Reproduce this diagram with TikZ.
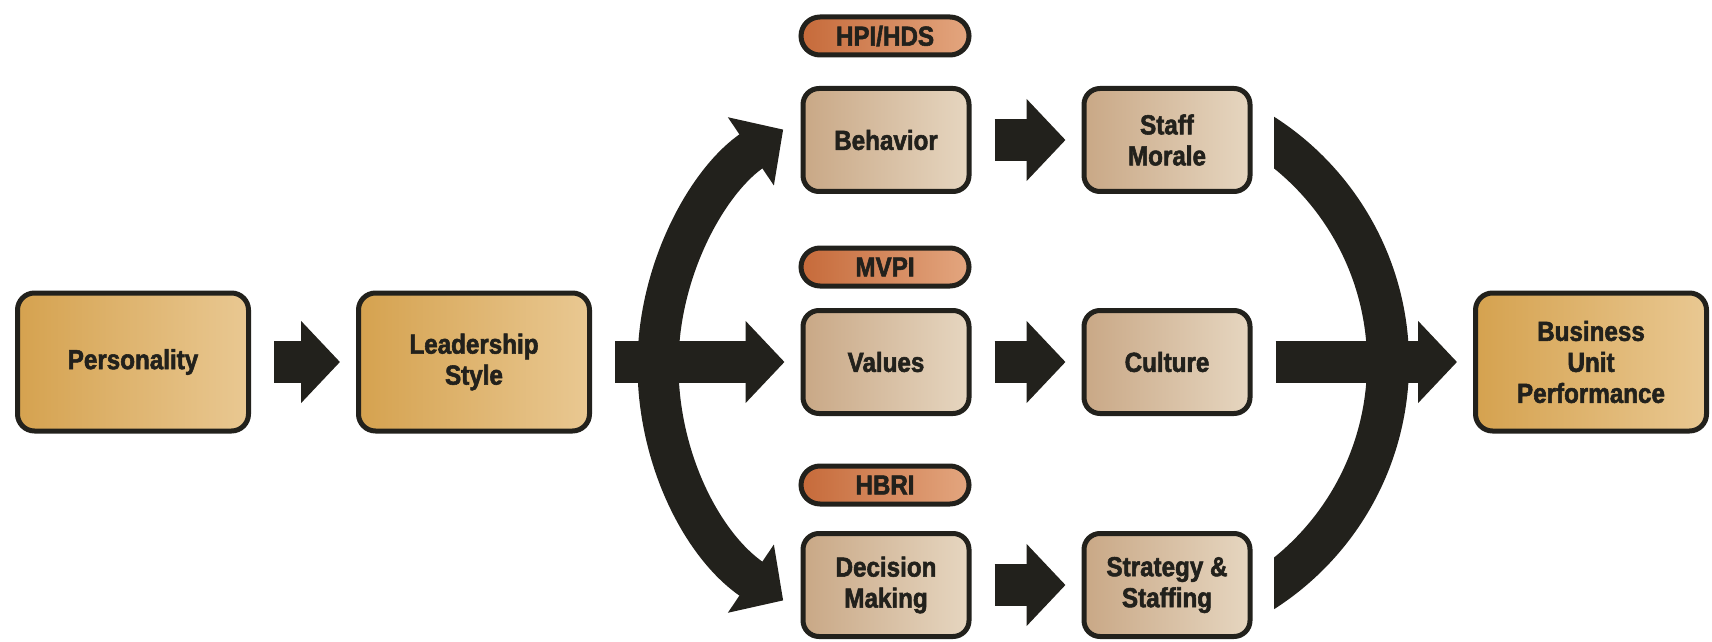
\documentclass[tikz,border=0pt]{standalone}
\usepackage{fontspec}
\setsansfont{Liberation Sans}[FakeStretch=0.88,FakeBold=2]
\usetikzlibrary{arrows.meta}
\definecolor{ink}{HTML}{22211C}
\definecolor{goldL}{HTML}{D5A24F}
\definecolor{goldR}{HTML}{E9C892}
\definecolor{tanL}{HTML}{C9A886}
\definecolor{tanR}{HTML}{E6D6C0}
\definecolor{rustL}{HTML}{C66A3A}
\definecolor{rustR}{HTML}{E3A67F}
\tikzset{
  boxtext/.style={font=\sffamily\bfseries\fontsize{27.5pt}{31pt}\selectfont,
                  text=ink, align=center},
  bighead/.tip={Triangle[width=80pt,length=39pt]}
}

\begin{document}
\begin{tikzpicture}[
  x=1pt,
  y=1pt,
  outerbox/.style={boxtext, draw=ink, line width=5pt, rounded corners=17pt,
                   left color=goldL, right color=goldR,
                   minimum width=231pt, minimum height=138pt},
  midbox/.style={boxtext, draw=ink, line width=5pt, rounded corners=16pt,
                 left color=tanL, right color=tanR,
                 minimum width=166pt, minimum height=103pt},
  tagbox/.style={boxtext, draw=ink, line width=5pt, rounded corners=19pt,
                 left color=rustL, right color=rustR,
                 minimum width=168pt, minimum height=38pt},
  flow/.style={ink, line width=42pt, shorten <=23pt, shorten >=16pt, -bighead},
  bigarc/.style={ink, line width=41pt}
]
\useasboundingbox (0,0) rectangle (1712,641);

\node [outerbox, name=pers] at (133,279) {Personality};
\node [outerbox, name=lead] at (474,279) {Leadership\\Style};
\node [outerbox, name=busi] at (1591,279) {Business\\Unit\\Performance};

\foreach [count=\i] \y/\ty/\m/\r in
                  {501/605/Behavior/{Staff\\Morale},
                   279/374/Values/Culture,
                   56/156/{Decision\\Making}/{Strategy \&\\Staffing}}
  {
   \node [tagbox, name=tag-\i] at (885,\ty) {\ifcase\i\or HPI/HDS\or MVPI\or HBRI\fi};
   \node [midbox, name=mid-\i] at (886,\y) {\m};
   \node [midbox, name=right-\i] at (1167,\y) {\r};
   \draw [flow] (mid-\i) -- (right-\i);
  }

\draw [flow] (pers) -- (lead);
\draw [flow] (lead) -- (mid-2);
\draw [flow] (right-2) -- (busi);

% fan out from leadership style
\coordinate (lhub) at (942,276);
\draw [bigarc, bighead-bighead] ([shift={(236:284)}]lhub)
      arc [start angle=236, end angle=124, radius=284pt];

% gather into business performance
\coordinate (rhub) at (1117,278);
\begin{scope}
  \clip (1274,0) rectangle (1712,641);
  \draw [bigarc, line width=42pt] ([shift={(80:271)}]rhub)
        arc [start angle=80, end angle=-80, radius=271pt];
\end{scope}

\end{tikzpicture}
\end{document}
